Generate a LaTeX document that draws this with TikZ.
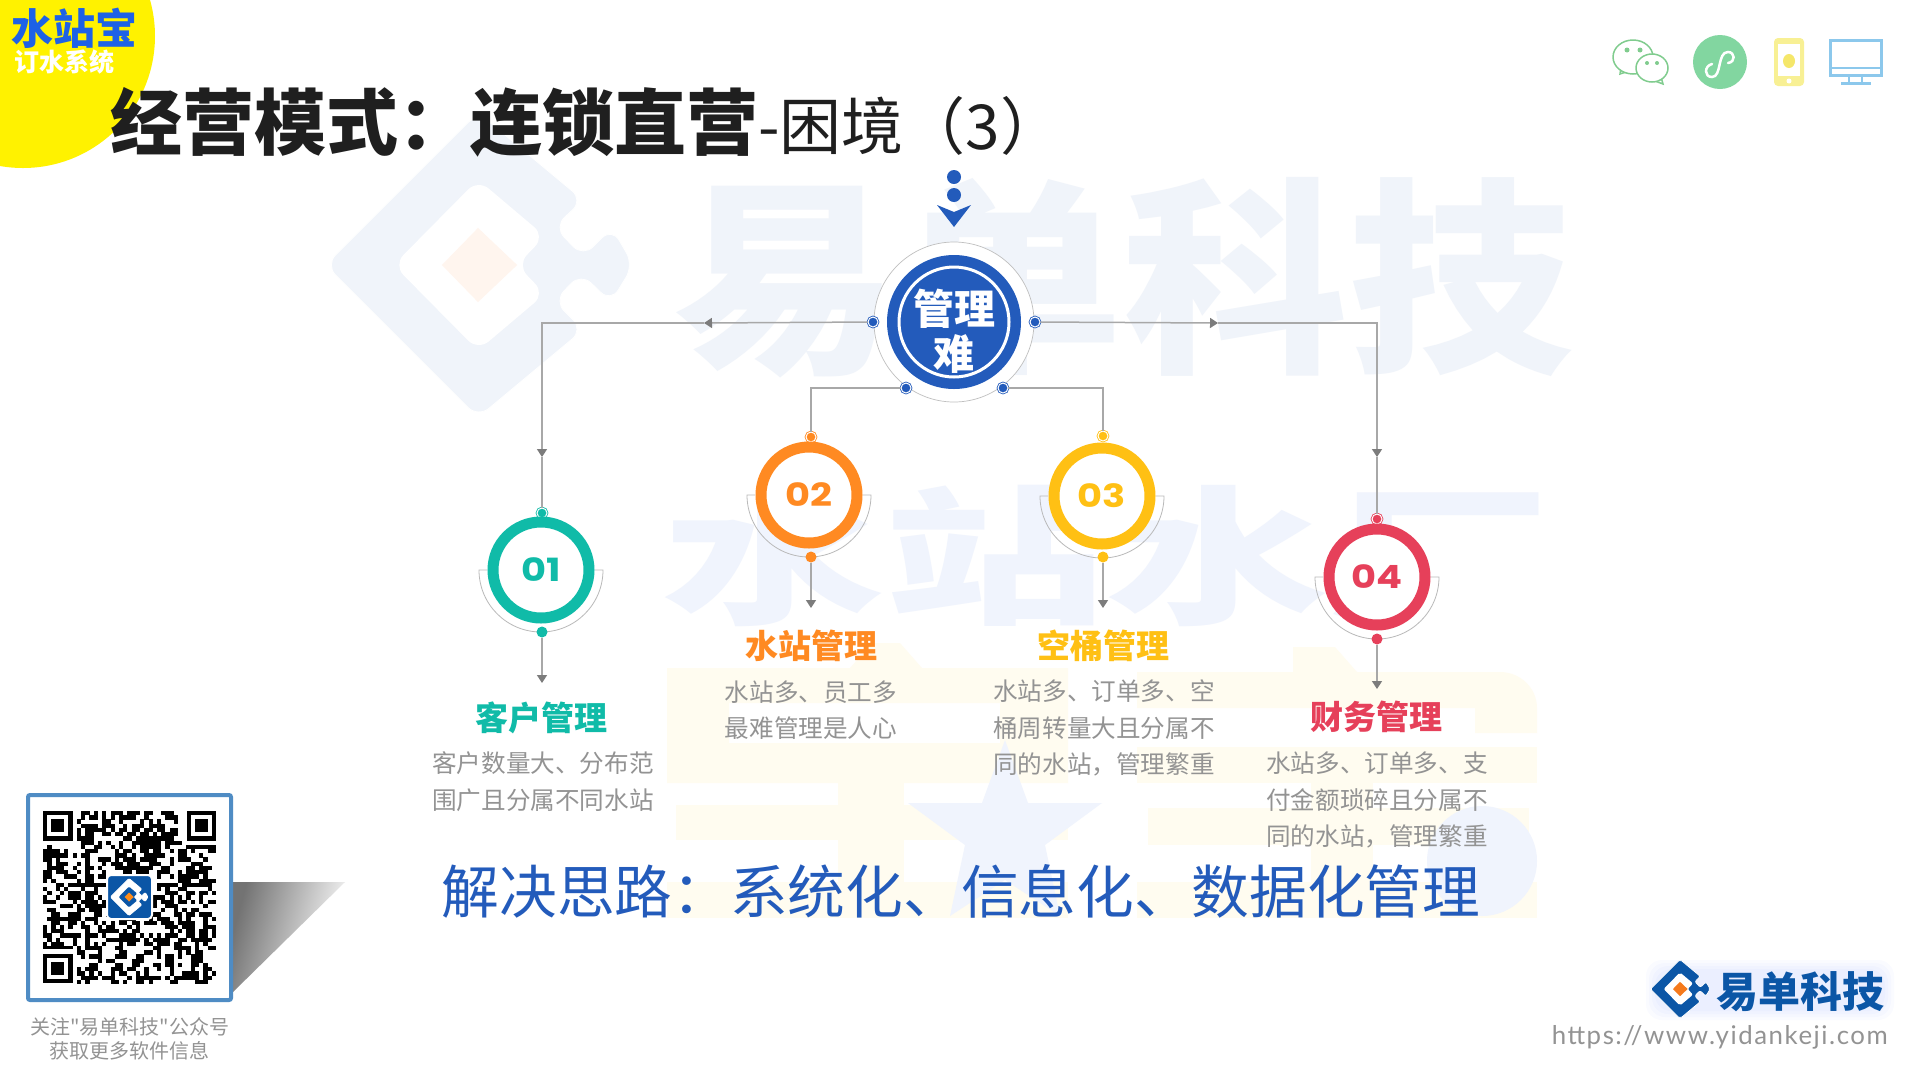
\documentclass[tikz,border=0pt]{standalone}
\usepackage{fontspec}
\usepackage{graphicx}
\setmainfont{Noto Sans CJK SC}
\newfontfamily\captionfont{Noto Sans CJK SC}
\newfontfamily\numfont{Poppins}
\newfontfamily\urlfont[LetterSpace=6]{Lato}
\usetikzlibrary{arrows.meta}
\definecolor{hubblue}{HTML}{235BBB}
\definecolor{ringteal}{HTML}{10BBA8}
\definecolor{ringorange}{HTML}{FF8A22}
\definecolor{ringyellow}{HTML}{FFC014}
\definecolor{ringred}{HTML}{E6405A}
\definecolor{linegray}{HTML}{A8A8A8}
\definecolor{tipgray}{HTML}{7C7C7C}
\definecolor{bodygray}{HTML}{939393}
\definecolor{markblue}{HTML}{F0F4FA}
\definecolor{markbluetwo}{HTML}{F0F4FD}
\definecolor{markyellow}{HTML}{FFFCF0}
\definecolor{markorange}{HTML}{FFF5EE}
\definecolor{logoblue}{HTML}{0B56A6}
\definecolor{logoorange}{HTML}{F57A1C}
\definecolor{sunyellow}{HTML}{FFF200}
\definecolor{brandblue}{HTML}{1E62E6}
\definecolor{chatgreen}{HTML}{80CC8E}
\definecolor{appgreen}{HTML}{82D6A0}
\definecolor{phoneyellow}{HTML}{F8F094}
\definecolor{applegold}{HTML}{F5E76A}
\definecolor{screenblue}{HTML}{8CC8EC}
\definecolor{framebluegray}{HTML}{4F8CC4}
\begin{document}
\begin{tikzpicture}[x=1pt, y=-1pt,
    ring/.style ={circle, draw=#1, line width=11pt, fill=white, minimum size=96pt, inner sep=0pt, text=#1, font=\fontsize{32}{32}\selectfont\numfont\bfseries},
    port/.style ={circle, draw=#1, fill=#1, line width=.8pt, double=white, double distance=1pt, minimum size=10pt, inner sep=0pt},
    solid dot/.style ={circle, fill=#1, minimum size=11pt, inner sep=0pt},
    link/.style ={draw=linegray, line width=1.5pt},
    tipped/.style ={link, -{Triangle[length=8pt, width=10pt, color=tipgray]}},
    halfring/.style ={draw=linegray!80, line width=.8pt},
    heading/.style ={text=#1, font=\fontsize{33}{33}\selectfont\bfseries},
    description/.style ={text=bodygray, align=center, font=\fontsize{24.6}{36.7}\selectfont},
    pics/brandmark/.style n args={4}{code={
       \fill[#1, draw=white, line width=.8pt, rounded corners=#4] (0,-148) -- (102,-63) -- (74,-37) -- (102,-8) -- (130,-36) -- (151,0) -- (129,36) -- (100,8) -- (74,35) -- (102,63) -- (0,148) -- (-148,0) -- cycle;
       \fill[#2, rounded corners=#4] (-82,0) -- (0,-83) -- (65,-28) -- (38,0) -- (65,28) -- (0,83) -- cycle;
       \fill[#3] (-35,0) -- (0,-36) -- (38,0) -- (0,36) -- cycle;
    }}]
   \useasboundingbox (0,0) rectangle (1920,1080);
   \fill[white] (0,0) rectangle (1920,1080);

   \pic[scale=1.03] at (478,265) {brandmark={markblue}{white}{markorange}{14pt}};
   \node[text=markblue, yscale=.93, transform shape, font=\fontsize{225}{225}\selectfont\bfseries] (W) at (1123,278) {易单科技};
   \fill[markyellow, even odd rule] (667,668) rectangle (1068,783) (729,703) rectangle (1000,743);
   \fill[markyellow] (1137,672) -- (1500,672) to[out=0, in=90] (1537,708) -- (1537,733) -- (1475,733) -- (1475,708) -- (1137,708) -- cycle;
   \fill[markyellow] (850,668) -- (872,643) -- (900,643) -- (922,668) -- cycle;
   \fill[markyellow] (1293,672) -- (1293,647) -- (1335,647) -- (1357,672) -- cycle;
   \fill[markyellow] (1137,747) rectangle (1537,783);
   \fill[markyellow] (676,805) rectangle (1068,840);
   \fill[markyellow] (1148,808) rectangle (1529,845);
   \fill[markyellow] (838,783) rectangle (904,882);
   \fill[markyellow] (1311,783) rectangle (1373,882);
   \fill[markyellow] (667,882) rectangle (1068,918);
   \fill[markyellow] (1137,882) rectangle (1537,918);
   \node[text=markbluetwo, yscale=.67, transform shape, font=\fontsize{222}{222}\selectfont\bfseries] (X) at (1106,556) {水站水厂};
   \fill[markbluetwo] (1005,740) -- (1028,803) -- (1102,803) -- (1045,845) -- (1060,916) -- (1005,880) -- (950,916) -- (965,845) -- (908,803) -- (982,803) -- cycle;
   \fill[markbluetwo] (1482,861) circle (55);

   \fill[sunyellow] (23,36) circle (132);
   \node[text=brandblue, font=\fontsize{42}{42}\selectfont\bfseries] (Y) at (75,28) {水站宝};
   \node[text=white, font=\fontsize{25}{25}\selectfont\bfseries] (Z) at (64,62) {订水系统};
   \node[anchor=west, inner sep=0pt, text=black!88, font=\fontsize{72}{72}\selectfont] (T) at (110,122) {\bfseries 经营模式：连锁直营\fontsize{62}{62}\selectfont\mdseries -困境（3）};

   \draw[draw=chatgreen, line width=1.5pt, fill=white] (1620,74) -- (1621,67) -- (1629,71) -- cycle;
   \draw[draw=chatgreen, line width=1.5pt, fill=white] (1633,57) ellipse (20 and 17);
   \draw[draw=chatgreen, line width=1.5pt, fill=white] (1663,84) -- (1661,77) -- (1655,81) -- cycle;
   \draw[draw=chatgreen, line width=1.5pt, fill=white] (1652,68) ellipse (16 and 14);
   \fill[chatgreen] (1627,50) circle (2.5) (1640,50) circle (2.5) (1647,63) circle (2) (1657,63) circle (2);
   \fill[appgreen] (1720,62) circle (27);
   \draw[white, line width=2.5pt, line cap=round] (1712,64) .. controls (1704,66) and (1704,77) .. (1712,77) .. controls (1722,77) and (1717,52) .. (1728,52) .. controls (1735,52) and (1736,62) .. (1728,63);
   \fill[phoneyellow, rounded corners=4pt] (1774,38) rectangle (1804,86);
   \fill[white] (1778,44) rectangle (1800,76);
   \fill[white] (1789,81) circle (2.5);
   \fill[applegold] (1789,61) ellipse (6 and 7);
   \draw[screenblue, line width=3pt] (1830,40) rectangle (1881,75);
   \draw[screenblue, line width=2pt] (1830,68) to (1881,68);
   \draw[screenblue, line width=2pt] (1849,76) to (1849,83);
   \draw[screenblue, line width=2pt] (1862,76) to (1862,83);
   \draw[screenblue, line width=3pt] (1841,83.5) to (1871,83.5);

   \node[circle, draw=black!25, line width=.7pt, fill=white, minimum size=160pt, inner sep=0pt] (O) at (954,322) {};
   \node[circle, fill=hubblue, minimum size=134pt, inner sep=0pt] (H) at (954,322) {};
   \node[circle, draw=white, line width=3pt, minimum size=110pt, inner sep=0pt] (I) at (954,322) {};
   \node[text=white, align=center, font=\fontsize{41}{45}\selectfont\bfseries] (J) at (954,331) {管理\\难};
   \fill[hubblue] (954,177) circle (7) (954,195) circle (7);
   \fill[hubblue] (937,205) -- (954,212) -- (971,205) -- (954,227) -- cycle;

   \node[port=hubblue] (P) at (873,322) {};
   \node[port=hubblue] (Q) at (1035,322) {};
   \node[port=hubblue] (R) at (906,388) {};
   \node[port=hubblue] (S) at (1003,388) {};

   \coordinate (L1) at (704,323);
   \coordinate (L2) at (542,457);
   \coordinate (R1) at (1218,323);
   \coordinate (R2) at (1377,457);

   \node[port=ringteal] (A1) at (542,513) {};
   \node[port=ringorange] (B1) at (811,437) {};
   \node[port=ringyellow] (C1) at (1103,436) {};
   \node[port=ringred] (D1) at (1377,519) {};

   \node[ring=ringteal] (A) at (541,570) {\scalebox{1.2}[1]{01}};
   \node[ring=ringorange] (B) at (809,495) {\scalebox{1.2}[1]{02}};
   \node[ring=ringyellow] (C) at (1102,496) {\scalebox{1.2}[1]{03}};
   \node[ring=ringred] (D) at (1377,577) {\scalebox{1.2}[1]{04}};

   \draw[halfring] (487,570) -- ++(-8,0) arc[start angle=180, end angle=360, radius=62pt] -- ++(-8,0);
   \draw[halfring] (755,495) -- ++(-8,0) arc[start angle=180, end angle=360, radius=62pt] -- ++(-8,0);
   \draw[halfring] (1048,496) -- ++(-8,0) arc[start angle=180, end angle=360, radius=62pt] -- ++(-8,0);
   \draw[halfring] (1323,577) -- ++(-8,0) arc[start angle=180, end angle=360, radius=62pt] -- ++(-8,0);

   \node[solid dot=ringteal] (A2) at (542,632) {};
   \node[solid dot=ringorange] (B2) at (811,557) {};
   \node[solid dot=ringyellow] (C2) at (1103,557) {};
   \node[solid dot=ringred] (D2) at (1377,639) {};

   \coordinate (A3) at (542,683);
   \coordinate (B3) at (811,608);
   \coordinate (C3) at (1103,608);
   \coordinate (D3) at (1377,689);

   \draw[tipped] (P) to (L1);
   \draw[tipped] (L1) -| (L2);
   \draw[link] (L2) to (A1);
   \draw[tipped] (Q) to (R1);
   \draw[tipped] (R1) -| (R2);
   \draw[link] (R2) to (D1);
   \draw[link] (R) -| (B1);
   \draw[link] (S) -| (C1);
   \draw[tipped] (A2) to (A3);
   \draw[tipped] (B2) to (B3);
   \draw[tipped] (C2) to (C3);
   \draw[tipped] (D2) to (D3);

   \node[heading=ringteal] (A4) at (541,718) {客户管理};
   \node[heading=ringorange] (B4) at (811,646) {水站管理};
   \node[heading=ringyellow] (C4) at (1103,646) {空桶管理};
   \node[heading=ringred] (D4) at (1376,717) {财务管理};

   \node[description] (A5) at (543,782) {客户数量大、分布范\\围广且分属不同水站};
   \node[description] (B5) at (811,710) {水站多、员工多\\最难管理是人心};
   \node[description] (C5) at (1104,728) {水站多、订单多、空\\桶周转量大且分属不\\同的水站，管理繁重};
   \node[description] (D5) at (1377,800) {水站多、订单多、支\\付金额琐碎且分属不\\同的水站，管理繁重};

   \node[text=hubblue, font=\fontsize{57.7}{58}\selectfont] (U) at (961,891) {解决思路：系统化、信息化、数据化管理};

   \shade[left color=black!55, right color=white, shading angle=75] (233,882) -- (345,882) -- (233,992) -- cycle;
   \draw[draw=framebluegray, line width=4pt, fill=white, rounded corners=2pt] (28,795) rectangle (231,1000);
   \pgfmathsetseed{4711}
   \foreach \c in {0,...,40} {
      \foreach \r in {0,...,40} {
         \pgfmathrandominteger{\cell}{0}{1}
         \ifnum\cell=1
            \fill[black] ({43+\c*4.22},{811+\r*4.22}) rectangle ++(4.3,4.3);
         \fi
      }
   }
   \foreach \fx/\fy in {43/811, 186.5/811, 43/953.5} {
      \fill[white] ({\fx-4.2},{\fy-4.2}) rectangle ++(38,38);
      \fill[black] (\fx,\fy) rectangle ++(29.5,29.5);
      \fill[white] ({\fx+4.2},{\fy+4.2}) rectangle ++(21.1,21.1);
      \fill[black] ({\fx+8.4},{\fy+8.4}) rectangle ++(12.7,12.7);
   }
   \draw[draw=white, line width=2pt, fill=logoblue, rounded corners=4pt] (107,875) rectangle (152,919);
   \pic[scale=.125] at (129,897) {brandmark={white}{logoblue}{orange!90}{1pt}};
   \node[text=bodygray, align=center, font=\fontsize{20}{24}\selectfont\captionfont] (V) at (130,1039) {关注"易单科技"公众号\\获取更多软件信息};

   \foreach \g in {12,9,6,3} {
      \fill[blue!70!cyan, opacity=.018, rounded corners=16pt] ({1658-\g},{972-\g}) rectangle ({1882+\g},{1008+\g});
   }
   \pic[scale=.2] at (1680,989) {brandmark={logoblue}{white}{logoorange}{2pt}};
   \node[text=logoblue, font=\fontsize{42}{42}\selectfont\bfseries] (E) at (1800,992) {易单科技};
   \node[anchor=east, inner sep=0pt, text=bodygray, font=\fontsize{25.8}{26}\selectfont\urlfont] (F) at (1888,1037) {https://www.yidankeji.com};
 \end{tikzpicture}
\end{document}
